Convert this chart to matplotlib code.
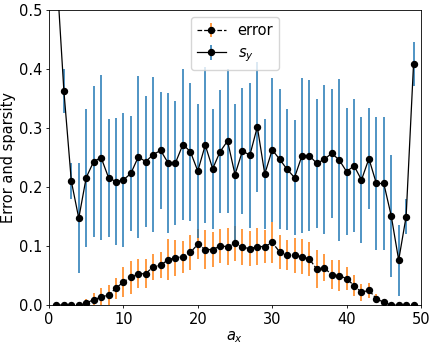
import matplotlib
matplotlib.use("Agg")
import matplotlib.pyplot as plt
import numpy as np

ax_vals = list(range(1, 50))

error = [0.0, 0.0, 0.0, 0.0, 0.0034, 0.009, 0.0134, 0.017, 0.0285, 0.039,
         0.047, 0.053, 0.053, 0.065, 0.067, 0.077, 0.080, 0.082, 0.089, 0.103,
         0.094, 0.094, 0.100, 0.099, 0.1045, 0.098, 0.0955, 0.099, 0.099, 0.106,
         0.090, 0.085, 0.084, 0.082, 0.078, 0.0605, 0.063, 0.0514, 0.050, 0.0446,
         0.033, 0.0215, 0.025, 0.0107, 0.0045, 0.0, 0.0, 0.0, 0.0]
error_err = [0.0, 0.0, 0.0, 0.0, 0.007, 0.011, 0.015, 0.017, 0.018, 0.025,
             0.028, 0.025, 0.025, 0.022, 0.022, 0.035, 0.030, 0.027, 0.030, 0.025,
             0.033, 0.029, 0.029, 0.031, 0.030, 0.031, 0.030, 0.032, 0.028, 0.035,
             0.029, 0.025, 0.030, 0.030, 0.029, 0.032, 0.023, 0.025, 0.026, 0.019,
             0.018, 0.014, 0.013, 0.008, 0.004, 0.0, 0.0, 0.0, 0.0]

s_y = [0.57, 0.363, 0.210, 0.147, 0.216, 0.243, 0.250, 0.216, 0.209, 0.212,
       0.223, 0.251, 0.243, 0.255, 0.262, 0.241, 0.241, 0.272, 0.260, 0.227,
       0.271, 0.231, 0.260, 0.278, 0.221, 0.261, 0.254, 0.302, 0.222, 0.263,
       0.247, 0.230, 0.216, 0.253, 0.253, 0.240, 0.247, 0.257, 0.246, 0.226,
       0.236, 0.212, 0.248, 0.206, 0.206, 0.151, 0.076, 0.150, 0.409]
s_y_err = [0.04, 0.037, 0.030, 0.093, 0.117, 0.128, 0.140, 0.100, 0.108, 0.113,
           0.097, 0.137, 0.111, 0.131, 0.099, 0.119, 0.105, 0.128, 0.117, 0.114,
           0.132, 0.102, 0.104, 0.122, 0.119, 0.107, 0.123, 0.110, 0.094, 0.122,
           0.119, 0.103, 0.098, 0.131, 0.128, 0.110, 0.126, 0.109, 0.137, 0.108,
           0.113, 0.107, 0.086, 0.112, 0.112, 0.104, 0.060, 0.030, 0.037]

fig = plt.figure(figsize=(4.35, 3.46), dpi=100)
ax = fig.add_axes([49/435, 1 - 305/346, 372/435, 295/346])

fs = 10.5
ax.errorbar(ax_vals, error, yerr=error_err, fmt='o', linestyle='--', color='k',
            ecolor='tab:orange', markersize=4.3, linewidth=0.9, elinewidth=1.1,
            label='error')
ax.errorbar(ax_vals, s_y, yerr=s_y_err, fmt='o', linestyle='-', color='k',
            ecolor='tab:blue', markersize=4.3, linewidth=0.9, elinewidth=1.1,
            label='$s_y$')

ax.set_xlim(0, 50)
ax.set_ylim(0, 0.5)
ax.set_xticks([0, 10, 20, 30, 40, 50])
ax.set_yticks([0.0, 0.1, 0.2, 0.3, 0.4, 0.5])
ax.tick_params(labelsize=fs, length=2.5, pad=2.5, width=0.6)
for s in ax.spines.values():
    s.set_linewidth(0.6)
ax.set_xlabel('$a_x$', fontsize=fs, labelpad=2)
ax.set_ylabel('Error and sparsity', fontsize=fs, labelpad=2)
ax.legend(loc='upper center', fontsize=fs)

fig.savefig('out.png', dpi=100)
